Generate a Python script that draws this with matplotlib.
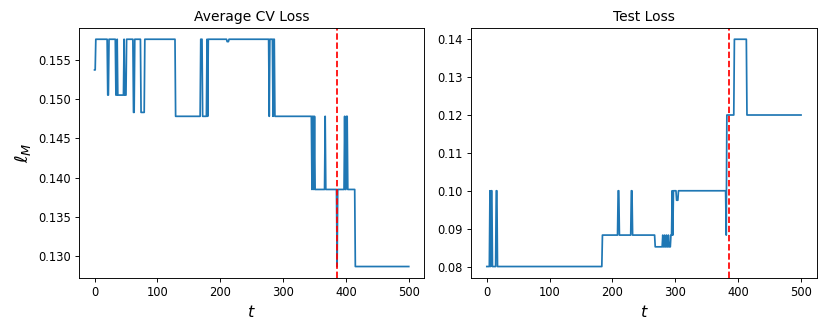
import numpy as np
import matplotlib.pyplot as plt

# piecewise-constant readings: (start t, value) breakpoints
cv_starts = [0, 2, 21, 23, 34, 36, 37, 47, 48, 51, 62, 64, 74, 80, 129,
             169, 172, 179, 180, 181, 211, 214, 278, 279, 284, 285, 287,
             346, 347, 349, 350, 351, 367, 368, 386, 387, 398, 399, 401, 403, 415]
cv_vals = [0.1537, 0.1576, 0.1505, 0.1576, 0.1505, 0.1576, 0.1505, 0.1576, 0.1505, 0.1576,
           0.1483, 0.1576, 0.1483, 0.1576, 0.1478,
           0.1576, 0.1478, 0.1576, 0.1478, 0.1576, 0.1573, 0.1576, 0.1478, 0.1576, 0.1478, 0.1576, 0.1478,
           0.1385, 0.1478, 0.1385, 0.1478, 0.1385, 0.1478, 0.1385, 0.1287, 0.1385,
           0.1478, 0.1385, 0.1478, 0.1385, 0.1287]

test_starts = [0, 5, 6, 7, 9, 15, 17, 184, 209, 211, 230, 232, 268, 280, 281, 283, 284,
               286, 287, 289, 290, 293, 295, 296, 297, 302, 305, 381, 382, 394, 414]
test_vals = [0.08, 0.10, 0.08, 0.10, 0.08, 0.10, 0.08, 0.0883, 0.10, 0.0883, 0.10, 0.0883,
             0.0852, 0.0883, 0.0852, 0.0883, 0.0852, 0.0883, 0.0852, 0.0883, 0.0852,
             0.0883, 0.10, 0.0883, 0.10, 0.0975, 0.10, 0.0883, 0.12, 0.14, 0.12]

t_end = 501
t_best = 386


def expand(starts, vals):
    lengths = np.diff(starts + [t_end])
    return np.repeat(vals, lengths)


t = np.arange(t_end)
cv_loss = expand(cv_starts, cv_vals)
test_loss = expand(test_starts, test_vals)

fig, (ax1, ax2) = plt.subplots(1, 2, figsize=(10, 4), dpi=83)

ax1.plot(t, cv_loss)
ax1.axvline(t_best, color="r", linestyle="--")
ax1.set_title("Average CV Loss")
ax1.set_xlabel("$t$", fontsize=14)
ax1.set_ylabel(r"$\ell_M$", fontsize=16)

ax2.plot(t, test_loss)
ax2.axvline(t_best, color="r", linestyle="--")
ax2.set_title("Test Loss")
ax2.set_xlabel("$t$", fontsize=14)

plt.subplots_adjust(left=0.095, right=0.984, bottom=0.163, top=0.916, wspace=0.135)
plt.savefig("out.png")
